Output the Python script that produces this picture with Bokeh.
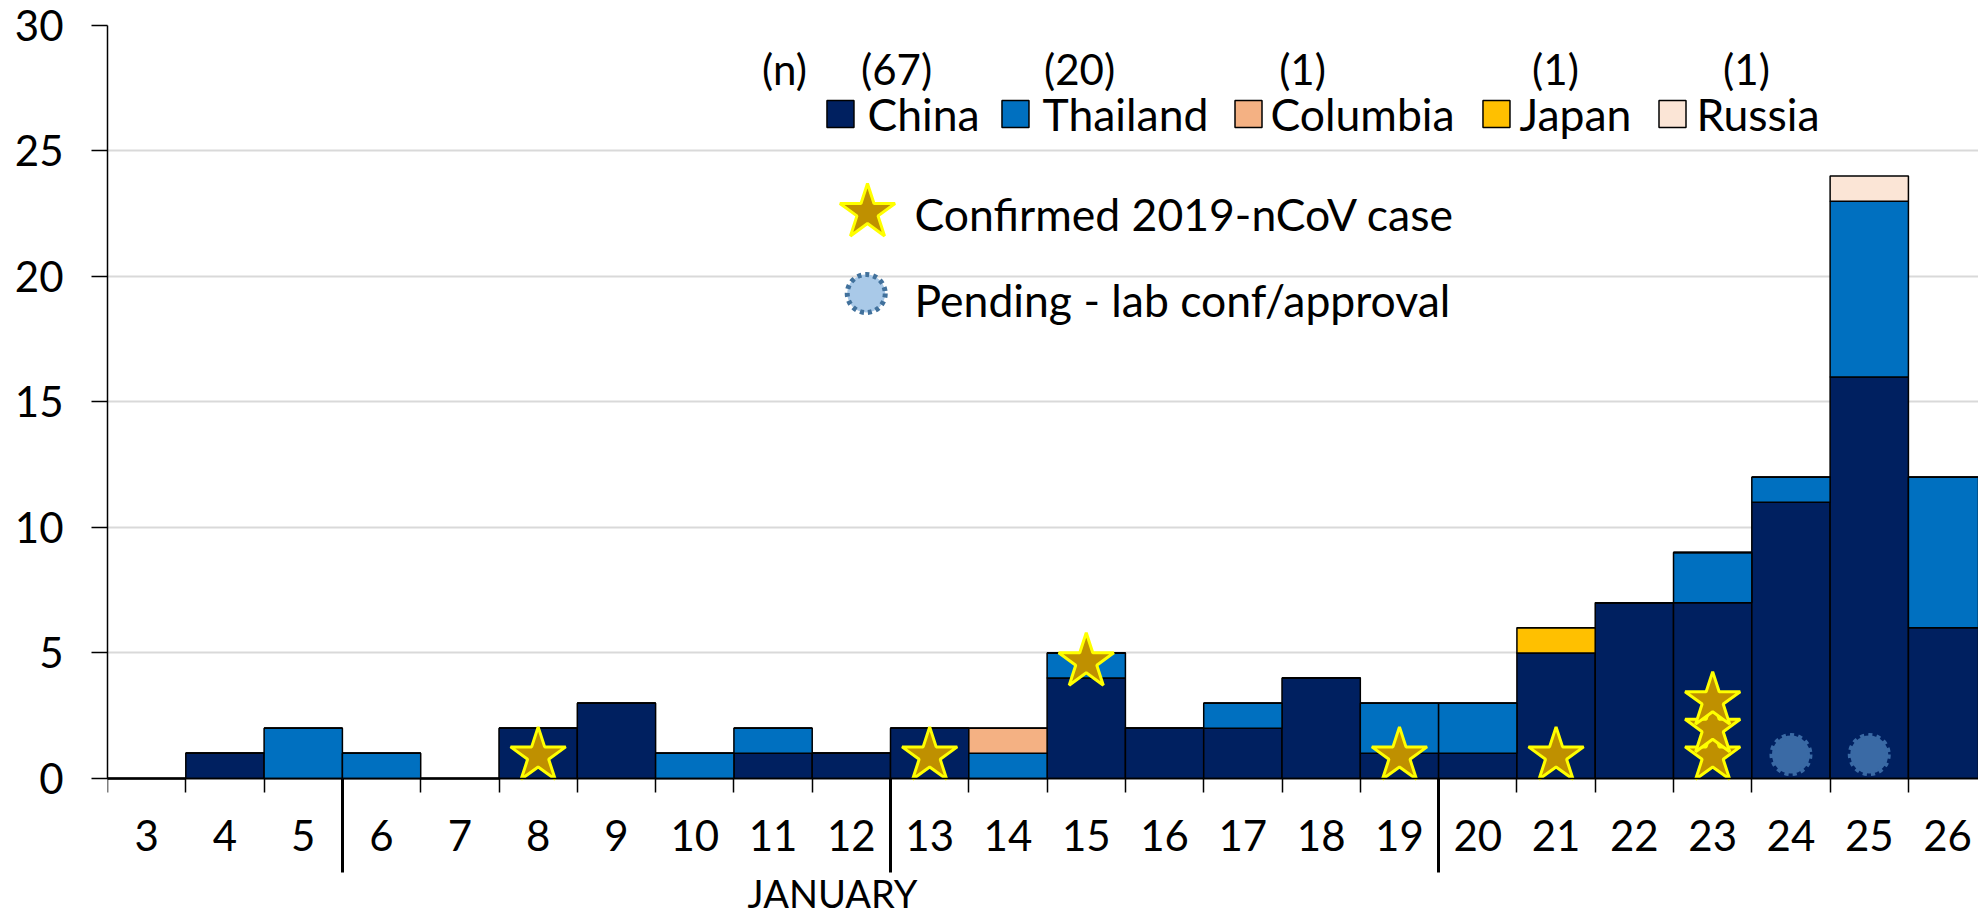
from bokeh.plotting import figure
from bokeh.models import ColumnDataSource, FixedTicker, LinearAxis, Range1d
from bokeh.core.properties import value
from bokeh.embed import file_html
from bokeh.resources import INLINE

# ---------------- data ----------------
days = list(range(3, 27))
tick_labels = [str(d) for d in days]
countries = ["China", "Thailand", "Columbia", "Japan", "Russia"]
country_totals = [67, 20, 1, 1, 1]
colors = ["#002060", "#0070C0", "#F4B183", "#FFC000", "#FBE5D6"]

china    = [0, 1, 0, 0, 0, 2, 3, 0, 1, 1, 2, 0, 4, 2, 2, 4, 1, 1, 5, 7, 7, 11, 16, 6]
thailand = [0, 0, 2, 1, 0, 0, 0, 1, 1, 0, 0, 1, 1, 0, 1, 0, 2, 2, 0, 0, 2, 1, 7, 6]
columbia = [0, 0, 0, 0, 0, 0, 0, 0, 0, 0, 0, 1, 0, 0, 0, 0, 0, 0, 0, 0, 0, 0, 0, 0]
japan    = [0, 0, 0, 0, 0, 0, 0, 0, 0, 0, 0, 0, 0, 0, 0, 0, 0, 0, 1, 0, 0, 0, 0, 0]
russia   = [0, 0, 0, 0, 0, 0, 0, 0, 0, 0, 0, 0, 0, 0, 0, 0, 0, 0, 0, 0, 0, 0, 1, 0]

star_days = [8, 13, 15, 19, 21, 23, 23, 23]
star_y    = [0.9, 0.9, 4.65, 0.9, 0.9, 0.9, 2.0, 3.1]
pending_days = [24, 25]
pending_y    = [0.95, 0.95]

week_breaks = [5.5, 12.5, 19.5]
month_label = "JANUARY"
y_ticks = [0, 5, 10, 15, 20, 25, 30]

FONT = value("Lato")

# ---------------- figure ----------------
p = figure(width=1978, height=916,
           x_range=Range1d(2.5, 26.395), y_range=Range1d(-5.5, 30),
           x_axis_location=None,
           output_backend="svg", toolbar_location=None,
           min_border_left=107, min_border_right=0,
           min_border_top=25, min_border_bottom=0)
p.outline_line_color = None
p.background_fill_color = "white"
p.border_fill_color = "white"

# grid
p.xgrid.visible = False
p.ygrid.ticker = FixedTicker(ticks=y_ticks)
p.ygrid.grid_line_color = "#D9D9D9"
p.ygrid.grid_line_width = 2

# y axis
ya = p.yaxis[0]
ya.ticker = FixedTicker(ticks=y_ticks)
ya.bounds = (0, 30)
ya.axis_line_color = "black"
ya.axis_line_width = 1.5
ya.major_tick_out = 16
ya.major_tick_in = 0
ya.major_tick_line_color = "black"
ya.major_tick_line_width = 1.5
ya.minor_tick_line_color = None
ya.major_label_standoff = 28
ya.major_label_text_font = "Lato"
ya.major_label_text_font_size = "42px"
ya.major_label_text_color = "black"

# x axis drawn on the y = 0 baseline (day labels, boundary ticks)
boundaries = [d - 0.5 for d in days] + [days[-1] + 0.5]
xa = LinearAxis(ticker=FixedTicker(ticks=days, minor_ticks=boundaries),
                fixed_location=0,
                major_label_overrides={d: lab for d, lab in zip(days, tick_labels)},
                axis_line_color="black", axis_line_width=1.5,
                major_tick_in=0, major_tick_out=0,
                minor_tick_in=14, minor_tick_out=0,
                minor_tick_line_color="black", minor_tick_line_width=1.5,
                major_label_standoff=-73,
                major_label_text_font="Lato",
                major_label_text_font_size="42px",
                major_label_text_color="black")
p.add_layout(xa, "above")

# week separators drawn as long ticks from the baseline
sep = LinearAxis(ticker=FixedTicker(ticks=week_breaks), fixed_location=0,
                 axis_line_color=None, major_tick_in=94, major_tick_out=0,
                 major_tick_line_color="black", major_tick_line_width=3,
                 minor_tick_line_color=None, major_label_standoff=0,
                 major_label_text_font_size="0px",
                 major_label_overrides={b: "" for b in week_breaks})
p.add_layout(sep, "above")

# ---------------- bars ----------------
src = ColumnDataSource(dict(day=days, China=china, Thailand=thailand,
                            Columbia=columbia, Japan=japan, Russia=russia))
p.vbar_stack(countries, x="day", width=1.0, fill_color=colors,
             line_color="black", line_width=1.5, source=src)

# confirmed stars
p.scatter(x=star_days, y=star_y, marker="star", size=58,
          fill_color="#BF9000", line_color="#FFFF00", line_width=3)
# pending markers
p.scatter(x=pending_days, y=pending_y, marker="circle", size=38,
          fill_color="#3A6AA5", line_color="#3A6AA5", line_width=5,
          line_dash="4 4")

# ---------------- legend ----------------
count_x = [11.146, 12.577, 14.914, 17.762, 20.993, 23.432]
count_txt = ["(n)"] + ["(%d)" % n for n in country_totals]
p.text(x=count_x, y=[28.25] * len(count_x), text=count_txt,
       text_font=FONT, text_font_size="42px", text_color="black",
       text_align="center", text_baseline="middle")

sq_x = [11.861, 14.096, 17.072, 20.239, 22.487]
lab_x = [12.206, 14.441, 17.353, 20.533, 22.794]
p.scatter(x=sq_x, y=[26.47] * 5, marker="square", size=27,
          fill_color=colors, line_color="black", line_width=1.5)
p.text(x=lab_x, y=[26.5] * 5, text=countries,
       text_font=FONT, text_font_size="44.5px", text_color="black",
       text_align="left", text_baseline="middle")

p.scatter(x=[12.206], y=[22.55], marker="star", size=58,
          fill_color="#BF9000", line_color="#FFFF00", line_width=3)
p.scatter(x=[12.19], y=[19.32], marker="circle", size=38,
          fill_color="#A9C9E8", line_color="#41719C", line_width=5,
          line_dash="4 4")
p.text(x=[12.807, 12.807], y=[22.5, 19.08],
       text=["Confirmed 2019-nCoV case", "Pending - lab conf/approval"],
       text_font=FONT, text_font_size="44.5px", text_color="black",
       text_align="left", text_baseline="middle")

# month label under the axis
p.text(x=[11.76], y=[-4.55], text=[month_label], text_font=FONT,
       text_font_size="38px", text_color="black",
       text_align="center", text_baseline="middle")

open("out.html", "w").write(file_html(p, INLINE))
